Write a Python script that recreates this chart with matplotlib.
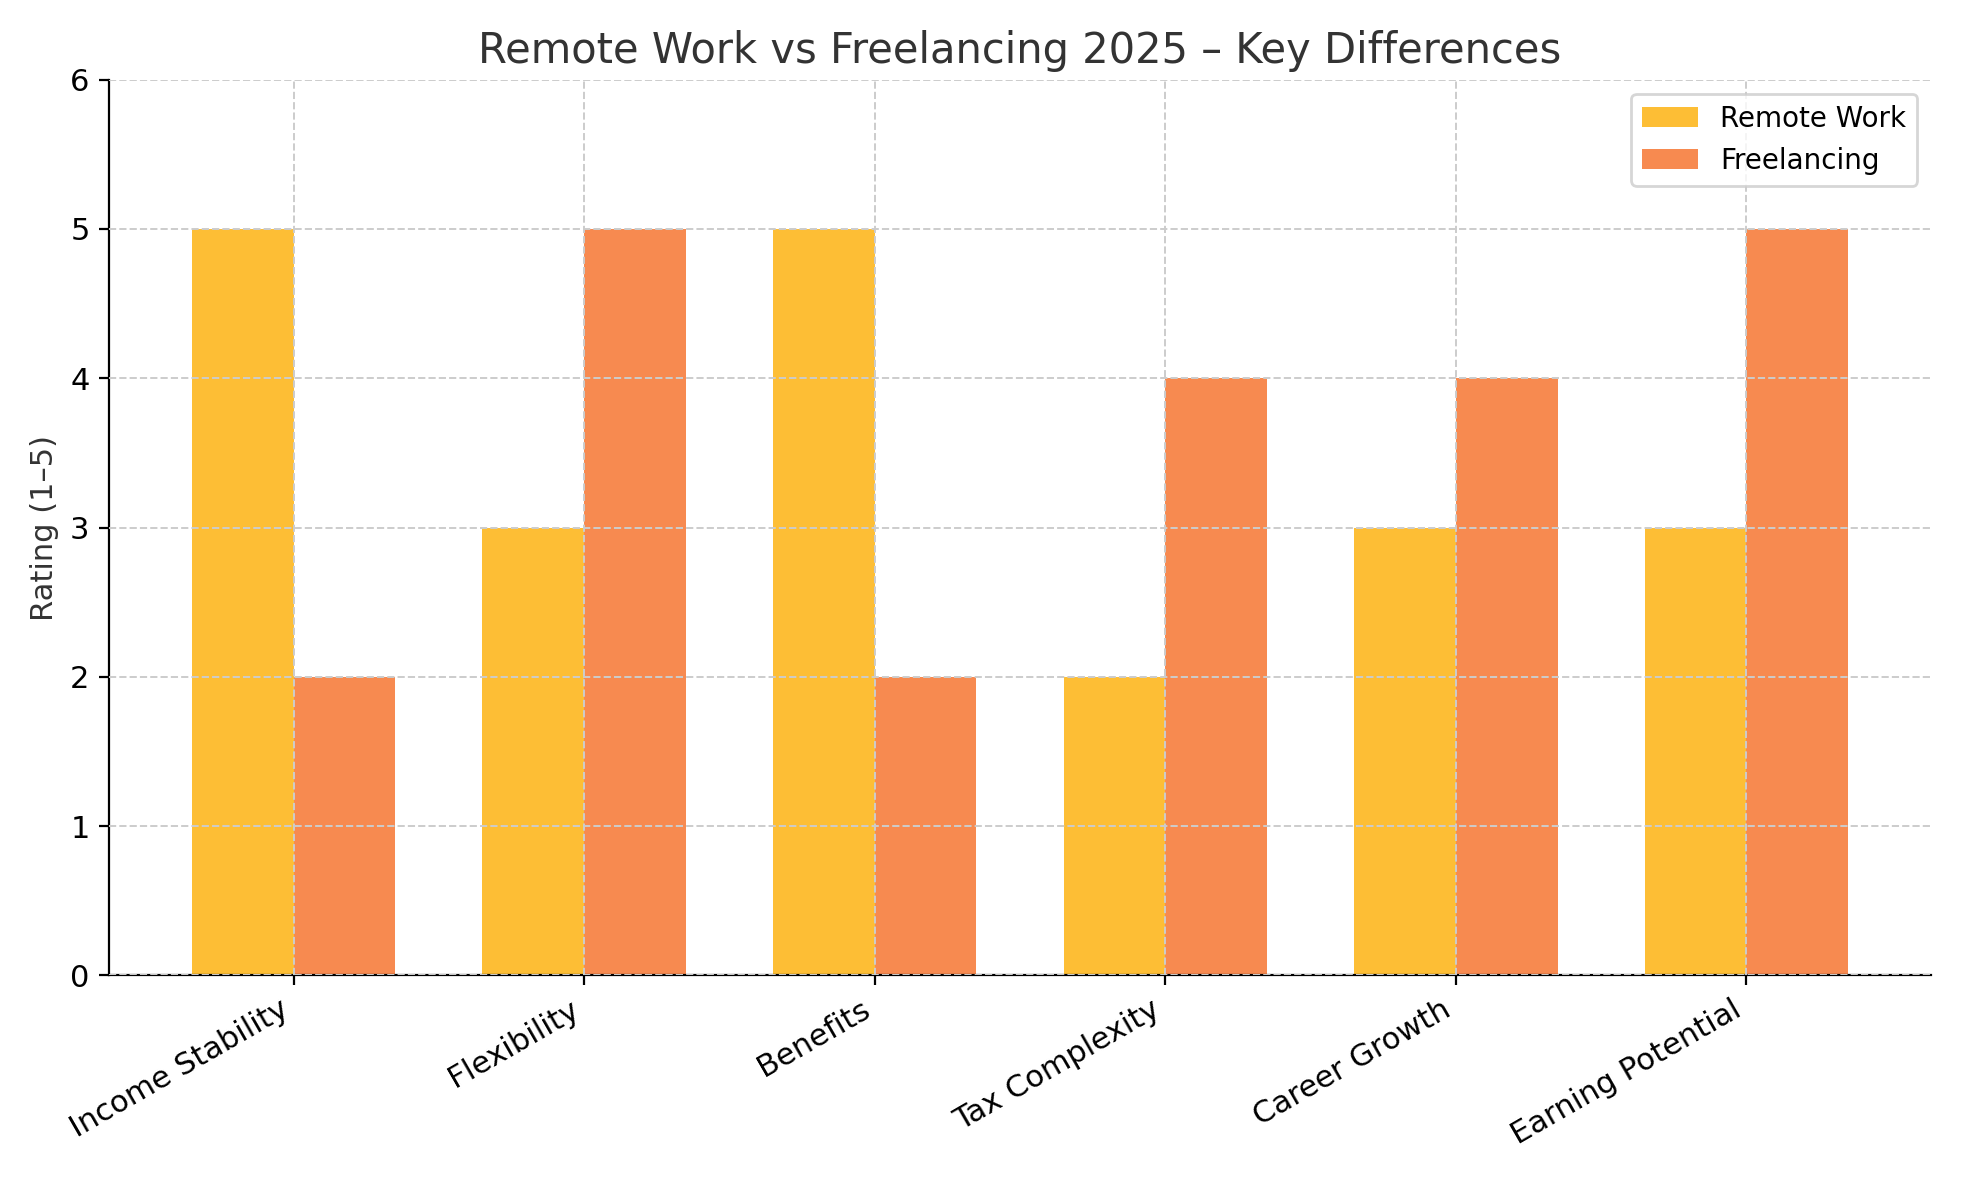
import numpy as np
import matplotlib.pyplot as plt

categories = ["Income Stability", "Flexibility", "Benefits", "Tax Complexity",
              "Career Growth", "Earning Potential"]
remote_work = [5, 3, 5, 2, 3, 3]
freelancing = [2, 5, 2, 4, 4, 5]

x = np.arange(len(categories))
w = 0.35

fig, ax = plt.subplots(figsize=(9.805, 5.9), dpi=200)
ax.bar(x - w / 2, remote_work, w, label="Remote Work", color="#FDBE35")
ax.bar(x + w / 2, freelancing, w, label="Freelancing", color="#F78A50")

ax.set_title("Remote Work vs Freelancing 2025 – Key Differences", fontsize=15, color="#333333")
ax.set_ylabel("Rating (1–5)", fontsize=11, color="#333333")
ax.set_xticks(x)
ax.set_xticklabels(categories, rotation=30, ha="right", fontsize=11)
ax.set_ylim(0, 6)
ax.tick_params(axis="y", labelsize=11)
ax.grid(True, linestyle="--", color="#cccccc", linewidth=0.7)
ax.set_axisbelow(False)
for s in ["top", "right"]:
    ax.spines[s].set_visible(False)
ax.legend(loc="upper right", fontsize=10)

fig.tight_layout()
fig.savefig("out.png")
